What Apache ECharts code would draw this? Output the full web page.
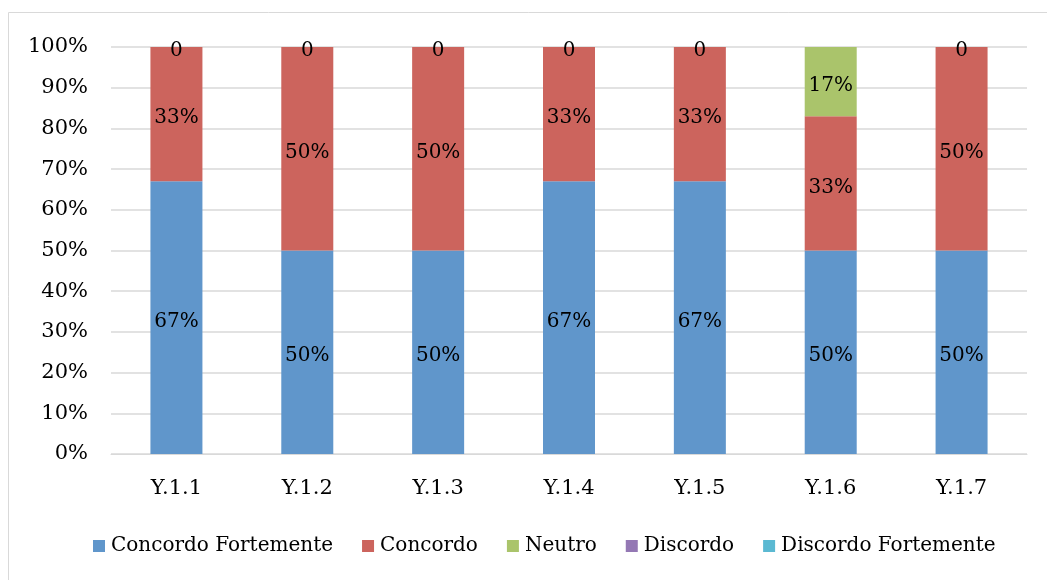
<!DOCTYPE html>
<html>
<head>
<meta charset="utf-8">
<script src="https://cdn.jsdelivr.net/npm/echarts@6/dist/echarts.min.js"></script>
<style>
  html, body { margin: 0; padding: 0; background: #fff; }
  #main { width: 1047px; height: 580px; }
</style>
</head>
<body>
<div id="main"></div>
<script>
const categories = ['Y.1.1', 'Y.1.2', 'Y.1.3', 'Y.1.4', 'Y.1.5', 'Y.1.6', 'Y.1.7'];
const concordoFortemente = [67, 50, 50, 67, 67, 50, 50];
const concordo = [33, 50, 50, 33, 33, 33, 50];
const neutro = [0, 0, 0, 0, 0, 17, 0];
const discordo = [0, 0, 0, 0, 0, 0, 0];
const discordoFortemente = [0, 0, 0, 0, 0, 0, 0];

const font = 'DejaVu Serif';

const pctLabel = {
    show: true,
    position: 'inside',
    offset: [0, 4],
    color: '#000',
    fontFamily: font,
    fontSize: 20,
    formatter: p => p.value + '%'
};

const chart = echarts.init(document.getElementById('main'));
chart.setOption({
    animation: false,
    textStyle: { fontFamily: font },
    graphic: [{
        type: 'rect',
        shape: { x: 8.5, y: 12.5, width: 1100, height: 700 },
        style: { fill: 'none', stroke: '#D9D9D9', lineWidth: 1 },
        silent: true
    }],
    grid: { left: 111, right: 20, top: 47, bottom: 126 },
    legend: {
        bottom: 19,
        left: 88,
        itemWidth: 12,
        itemHeight: 12,
        itemGap: 29,
        icon: 'rect',
        textStyle: { fontFamily: font, fontSize: 20, color: '#000', padding: [0, 0, 0, 1] },
        data: ['Concordo Fortemente', 'Concordo', 'Neutro', 'Discordo', 'Discordo Fortemente']
    },
    xAxis: {
        type: 'category',
        data: categories,
        axisLine: { lineStyle: { color: '#D9D9D9' } },
        axisTick: { show: false },
        axisLabel: { color: '#000', fontFamily: font, fontSize: 21, margin: 24 }
    },
    yAxis: {
        type: 'value',
        min: 0,
        max: 100,
        interval: 10,
        axisLine: { show: false },
        axisTick: { show: false },
        splitLine: { lineStyle: { color: '#D9D9D9', width: 1.5 } },
        axisLabel: {
            color: '#000', fontFamily: font, fontSize: 21, margin: 23,
            padding: [5, 0, 0, 0], formatter: '{value}%'
        }
    },
    series: [
        {
            name: 'Concordo Fortemente', type: 'bar', stack: 'total', barWidth: 52,
            itemStyle: { color: '#6096CB' }, label: pctLabel, data: concordoFortemente
        },
        {
            name: 'Concordo', type: 'bar', stack: 'total', barWidth: 52,
            itemStyle: { color: '#CC645D' }, label: pctLabel, data: concordo
        },
        {
            name: 'Neutro', type: 'bar', stack: 'total', barWidth: 52,
            itemStyle: { color: '#AAC46B' },
            label: Object.assign({}, pctLabel, {
                formatter: p => p.value === 0 ? '0' : p.value + '%'
            }),
            data: neutro
        },
        {
            name: 'Discordo', type: 'bar', stack: 'total', barWidth: 52,
            itemStyle: { color: '#9478B4' }, data: discordo
        },
        {
            name: 'Discordo Fortemente', type: 'bar', stack: 'total', barWidth: 52,
            itemStyle: { color: '#5BB9D2' }, data: discordoFortemente
        }
    ]
});
</script>
</body>
</html>
